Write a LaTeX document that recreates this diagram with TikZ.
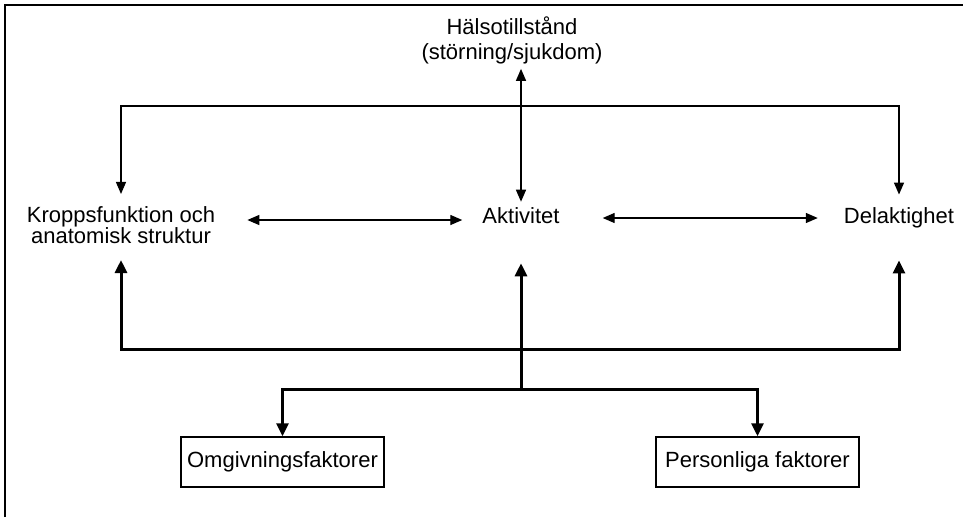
\documentclass[tikz,border=0pt]{standalone}
\usepackage{fontspec}
\setmainfont{Liberation Sans}
\usetikzlibrary{arrows.meta}

\begin{document}
\begin{tikzpicture}[x=1pt,y=-1pt,
  term/.style={font=\fontsize{22}{20}\selectfont, align=center, inner sep=0pt},
  factor/.style={draw, line width=1.5pt, font=\fontsize{22}{24}\selectfont,
    minimum width=203pt, minimum height=50pt, inner sep=0pt},
  link/.style={line width=1.4pt, >={Triangle[length=12pt,width=10pt]}},
  feed/.style={line width=3pt, >={Triangle[length=13pt,width=12pt]}}]

\useasboundingbox (0,0) rectangle (963,517);
\draw[line width=1.5pt] (5,517) -- (5,5) -- (963,5);

\coordinate (ridge) at (521,106);
\coordinate (base) at (521,349);
\coordinate (fork) at (521,389);

\node[term, font=\fontsize{22}{25}\selectfont, inner ysep=5pt] (halsa) at (512,40)
  {Hälsotillstånd\\(störning/sjukdom)};
\node[term, inner xsep=32pt, inner ysep=12pt] (kropp) at (121,225)
  {Kroppsfunktion och\\anatomisk struktur};
\node[term, inner xsep=20pt] (aktiv) at (521,216) {Aktivitet};
\node[term, inner xsep=26pt, inner ysep=13pt] (delakt) at (899,218) {Delaktighet};

\node[factor] (omgiv) at (282.5,462) {Omgivningsfaktorer};
\node[factor] (person) at (757.5,462) {Personliga faktorer};

% health condition
\draw[link,<->] (halsa.south -| aktiv.north) -- ([yshift=6pt]aktiv.north);
\draw[link,<->] (kropp.north) |- (ridge) -| (delakt.north);
% middle row
\draw[link,<->] ([yshift=5pt]kropp.east) -- ([yshift=-4pt]aktiv.west);
\draw[link,<->] ([xshift=23pt,yshift=-2pt]aktiv.east) -- (delakt.west);
% context factors
\draw[feed,->] (fork) -- ([yshift=-39pt]aktiv.south);
\draw[feed,<->] ([yshift=-4pt]kropp.south) |- (base) -| ([yshift=-19pt]delakt.south);
\draw[feed,<->] (omgiv.north) |- (fork) -| (person.north);

\end{tikzpicture}
\end{document}
